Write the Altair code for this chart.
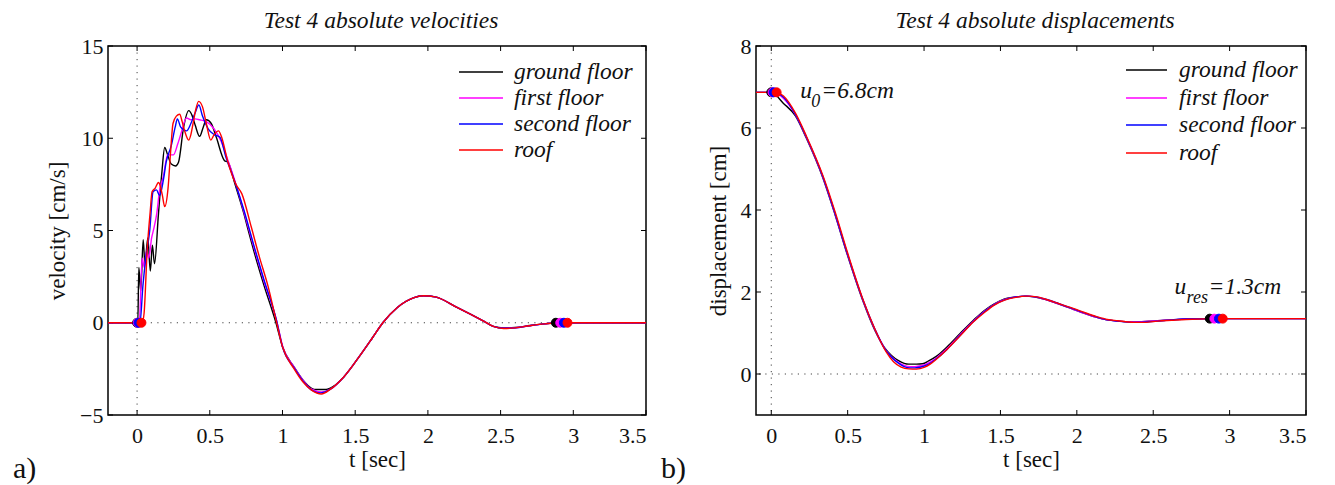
import altair as alt
import pandas as pd

FONT = "Liberation Serif, Times New Roman, Times, serif"
SERIES = ["ground floor", "first floor", "second floor", "roof"]
COLORS = ["#000000", "#ff00ff", "#0000ff", "#ff0000"]

# ---------------- absolute velocities [cm/s] ----------------
vel_t_ground = [-0.2, 0.0, 0.005, 0.012, 0.025, 0.042, 0.054, 0.074, 0.091, 0.105, 0.12, 0.147,
                0.17, 0.19, 0.21, 0.235, 0.265, 0.285, 0.32, 0.355, 0.38, 0.40, 0.43, 0.455,
                0.476, 0.51, 0.545, 0.6, 0.625, 0.674, 0.735, 0.76, 0.81, 0.87, 0.955, 1.0,
                1.08, 1.14, 1.2, 1.23, 1.3, 1.35, 1.42, 1.54, 1.62, 1.69, 1.79, 1.9, 1.97,
                2.05, 2.2, 2.38, 2.45, 2.52, 2.6, 2.7, 2.8, 2.88, 3.5]
vel_ground = [0, 0, 0, 3.0, 1.7, 4.5, 3.2, 4.6, 2.8, 4.2, 3.2, 5.9,
              8.1, 9.5, 9.1, 8.6, 8.5, 8.7, 10.6, 11.5, 11.2, 10.7, 10.1, 10.6,
              11.0, 10.8, 10.05, 8.8, 8.7, 7.5, 5.9, 5.15, 3.7, 2.1, 0.0, -1.3,
              -2.4, -3.1, -3.55, -3.62, -3.62, -3.45, -2.95, -1.7, -0.8, 0.0, 0.83, 1.35, 1.46,
              1.4, 0.83, 0.1, -0.2, -0.28, -0.26, -0.15, -0.06, 0.0, 0.0]

vel_t_first = [-0.2, 0.0, 0.015, 0.035, 0.05, 0.065, 0.08, 0.1, 0.115, 0.135, 0.155, 0.18,
               0.21, 0.25, 0.28, 0.30, 0.34, 0.37, 0.40, 0.43, 0.476, 0.53, 0.58, 0.625,
               0.68, 0.735, 0.81, 0.87, 0.96, 1.0, 1.08, 1.14, 1.2, 1.27, 1.33, 1.42,
               1.54, 1.62, 1.69, 1.79, 1.9, 1.97, 2.05, 2.2, 2.38, 2.45, 2.52, 2.6, 2.7,
               2.8, 2.91, 3.5]
vel_first = [0, 0, 0, 3.5, 3.0, 3.9, 3.5, 4.6, 5.1, 5.9, 7.2, 7.9,
             9.1, 9.1, 9.7, 10.2, 11.1, 11.0, 11.05, 11.0, 10.9, 10.5, 9.8, 8.8,
             7.5, 6.0, 3.9, 2.3, 0.1, -1.25, -2.4, -3.1, -3.6, -3.75, -3.6, -2.95,
             -1.7, -0.8, 0.0, 0.83, 1.35, 1.46, 1.4, 0.83, 0.1, -0.2, -0.29, -0.27, -0.16,
             -0.06, 0.0, 0.0]

vel_t_second = [-0.2, 0.0, 0.02, 0.04, 0.06, 0.087, 0.11, 0.133, 0.155, 0.18, 0.2, 0.235,
                0.262, 0.277, 0.30, 0.34, 0.37, 0.40, 0.425, 0.45, 0.49, 0.53, 0.57, 0.61,
                0.67, 0.735, 0.81, 0.87, 0.96, 1.0, 1.08, 1.14, 1.2, 1.265, 1.33, 1.42,
                1.54, 1.62, 1.69, 1.79, 1.9, 1.97, 2.05, 2.2, 2.38, 2.45, 2.52, 2.6, 2.7,
                2.8, 2.935, 3.5]
vel_second = [0, 0, 0, 2.0, 3.5, 5.0, 7.1, 7.2, 6.9, 7.7, 8.7, 9.6,
              10.6, 11.05, 10.6, 10.4, 10.8, 11.4, 11.8, 11.2, 10.5, 10.2, 10.05, 9.0,
              7.7, 6.1, 4.0, 2.4, 0.1, -1.3, -2.45, -3.15, -3.65, -3.8, -3.6, -2.95,
              -1.7, -0.8, 0.0, 0.83, 1.35, 1.46, 1.4, 0.83, 0.1, -0.2, -0.3, -0.28, -0.16,
              -0.06, 0.0, 0.0]

vel_t_roof = [-0.2, 0.0, 0.035, 0.048, 0.07, 0.09, 0.103, 0.125, 0.147, 0.16, 0.174, 0.19,
              0.213, 0.23, 0.247, 0.27, 0.293, 0.31, 0.327, 0.355, 0.37, 0.385, 0.405, 0.423,
              0.45, 0.476, 0.507, 0.53, 0.56, 0.58, 0.625, 0.68, 0.72, 0.785, 0.84, 0.9,
              0.96, 1.0, 1.08, 1.14, 1.2, 1.267, 1.33, 1.42, 1.54, 1.62, 1.69, 1.79, 1.9,
              1.97, 2.05, 2.2, 2.38, 2.45, 2.52, 2.6, 2.7, 2.8, 2.96, 3.5]
vel_roof = [0, 0, 0, 0.5, 4.0, 6.0, 7.1, 7.3, 7.6, 7.4, 6.9, 6.3,
            7.3, 9.2, 10.8, 11.2, 11.3, 10.9, 10.4, 9.9, 10.2, 10.8, 11.6, 12.0,
            11.7, 10.8, 9.9, 10.2, 10.4, 10.1, 8.7, 7.5, 7.0, 5.2, 3.6, 2.0,
            0.0, -1.3, -2.5, -3.2, -3.65, -3.86, -3.6, -2.95, -1.7, -0.8, 0.0, 0.83, 1.35,
            1.46, 1.4, 0.83, 0.1, -0.2, -0.31, -0.28, -0.16, -0.06, 0.0, 0.0]

vel_start_t = [0.0, 0.004, 0.01, 0.03]
vel_end_t = [2.88, 2.91, 2.935, 2.96]
vel_marker = 0.0

# ---------------- absolute displacements [cm] ----------------
disp_t_ground = [-0.1, 0.0, 0.08, 0.157, 0.23, 0.338, 0.417, 0.497, 0.6, 0.68, 0.74, 0.787,
                 0.83, 0.87, 0.9, 0.95, 0.99, 1.03, 1.08, 1.15, 1.236, 1.32, 1.395, 1.46,
                 1.527, 1.6, 1.66, 1.72, 1.79, 1.88, 1.976, 2.05, 2.13, 2.2, 2.266, 2.37,
                 2.45, 2.53, 2.62, 2.715, 2.87, 3.5]
disp_ground = [6.87, 6.87, 6.6, 6.3, 5.75, 4.78, 3.89, 2.92, 1.78, 1.05, 0.65, 0.45,
               0.33, 0.26, 0.24, 0.24, 0.25, 0.32, 0.43, 0.66, 0.99, 1.3, 1.55, 1.71,
               1.83, 1.88, 1.9, 1.88, 1.82, 1.71, 1.58, 1.48, 1.38, 1.32, 1.29, 1.27,
               1.28, 1.3, 1.32, 1.34, 1.35, 1.35]

disp_t_first = [-0.1, 0.0, 0.008, 0.08, 0.157, 0.23, 0.338, 0.417, 0.497, 0.6, 0.68, 0.74,
                0.787, 0.83, 0.87, 0.91, 0.94, 0.98, 1.03, 1.08, 1.15, 1.236, 1.32, 1.395,
                1.46, 1.527, 1.6, 1.67, 1.73, 1.79, 1.88, 1.976, 2.05, 2.13, 2.2, 2.266,
                2.37, 2.45, 2.53, 2.62, 2.715, 2.90, 3.5]
disp_first = [6.87, 6.87, 6.87, 6.72, 6.33, 5.77, 4.8, 3.91, 2.94, 1.8, 1.07, 0.64,
              0.42, 0.29, 0.21, 0.18, 0.18, 0.2, 0.27, 0.39, 0.62, 0.96, 1.28, 1.53,
              1.7, 1.82, 1.88, 1.9, 1.88, 1.82, 1.71, 1.58, 1.48, 1.38, 1.32, 1.29,
              1.27, 1.28, 1.3, 1.32, 1.34, 1.35, 1.35]

disp_t_second = [-0.1, 0.0, 0.016, 0.08, 0.157, 0.23, 0.338, 0.417, 0.497, 0.6, 0.68, 0.74,
                 0.787, 0.83, 0.87, 0.91, 0.94, 0.98, 1.03, 1.08, 1.15, 1.236, 1.32, 1.395,
                 1.46, 1.527, 1.6, 1.67, 1.73, 1.79, 1.88, 1.976, 2.05, 2.13, 2.2, 2.266,
                 2.37, 2.45, 2.53, 2.62, 2.715, 2.93, 3.5]
disp_second = [6.87, 6.87, 6.87, 6.75, 6.34, 5.78, 4.81, 3.92, 2.95, 1.81, 1.08, 0.63,
               0.41, 0.27, 0.18, 0.15, 0.15, 0.17, 0.24, 0.37, 0.6, 0.94, 1.27, 1.52,
               1.69, 1.81, 1.88, 1.9, 1.88, 1.83, 1.72, 1.59, 1.49, 1.39, 1.32, 1.29,
               1.26, 1.27, 1.29, 1.32, 1.34, 1.35, 1.35]

disp_t_roof = [-0.1, 0.0, 0.035, 0.08, 0.16, 0.23, 0.34, 0.42, 0.5, 0.6, 0.68, 0.75,
               0.8, 0.85, 0.9, 0.95, 1.0, 1.04, 1.08, 1.15, 1.236, 1.32, 1.395, 1.46,
               1.527, 1.6, 1.68, 1.74, 1.79, 1.88, 1.976, 2.05, 2.13, 2.2, 2.266, 2.37,
               2.45, 2.53, 2.62, 2.715, 2.955, 3.5]
disp_roof = [6.87, 6.87, 6.87, 6.78, 6.35, 5.8, 4.82, 3.93, 2.95, 1.82, 1.08, 0.55,
             0.3, 0.17, 0.125, 0.12, 0.16, 0.24, 0.36, 0.6, 0.93, 1.26, 1.5, 1.68,
             1.8, 1.87, 1.9, 1.88, 1.83, 1.72, 1.6, 1.5, 1.4, 1.33, 1.3, 1.26,
             1.26, 1.29, 1.31, 1.33, 1.35, 1.35]

disp_start_t = [0.0, 0.008, 0.016, 0.035]
disp_end_t = [2.87, 2.90, 2.93, 2.955]
disp_start = 6.87
disp_end = 1.35

TICKS_T = [0, 0.5, 1, 1.5, 2, 2.5, 3, 3.5]


def panel(curves, start_t, start_val, end_t, end_val, xdom, ydom, yticks, W, H,
          title, ytitle, tag, legend, notes):
    xenc = alt.X("t:Q", scale=alt.Scale(domain=xdom, nice=False, zero=False),
                 axis=alt.Axis(values=TICKS_T, format="~g", title="t [sec]"))
    yenc = alt.Y("y:Q", scale=alt.Scale(domain=ydom, nice=False, zero=False),
                 axis=alt.Axis(values=yticks, format="~g", title=ytitle))

    layers = []
    # dotted zero references
    layers.append(alt.Chart(pd.DataFrame({"t": [0.0]})).mark_rule(
        color="#444", strokeDash=[1.2, 5.3], strokeWidth=1).encode(x=xenc))
    layers.append(alt.Chart(pd.DataFrame({"y": [0.0]})).mark_rule(
        color="#444", strokeDash=[1.2, 5.3], strokeWidth=1).encode(y=yenc))

    # inward box ticks on all four sides
    tdf = pd.DataFrame({"t": TICKS_T})
    ydf = pd.DataFrame({"y": yticks})
    tick = dict(color="#000", strokeWidth=1)
    layers.append(alt.Chart(tdf).mark_rule(**tick).encode(x=xenc, y=alt.value(0), y2=alt.value(5)))
    layers.append(alt.Chart(tdf).mark_rule(**tick).encode(x=xenc, y=alt.value(H - 5), y2=alt.value(H)))
    layers.append(alt.Chart(ydf).mark_rule(**tick).encode(y=yenc, x=alt.value(0), x2=alt.value(5)))
    layers.append(alt.Chart(ydf).mark_rule(**tick).encode(y=yenc, x=alt.value(W - 5), x2=alt.value(W)))

    # one line per storey, drawn bottom to roof
    for (ts, vs), color in zip(curves, COLORS):
        df = pd.DataFrame({"t": ts, "y": vs})
        layers.append(alt.Chart(df).mark_line(color=color, strokeWidth=1.4, clip=True,
                                              interpolate="monotone").encode(x=xenc, y=yenc))
    # start / end markers
    for i, color in enumerate(COLORS):
        mdf = pd.DataFrame({"t": [start_t[i], end_t[i]], "y": [start_val, end_val]})
        layers.append(alt.Chart(mdf).mark_circle(color=color, size=80, opacity=1,
                                                 stroke=color, strokeWidth=1).encode(x=xenc, y=yenc))

    # legend drawn inside the axes
    lx0, lx1, tx, rows = legend
    for name, color, ry in zip(SERIES, COLORS, rows):
        layers.append(alt.Chart(pd.DataFrame({"k": [name]})).mark_rule(
            color=color, strokeWidth=1.4).encode(
            x=alt.value(lx0), x2=alt.value(lx1), y=alt.value(ry)))
        layers.append(alt.Chart(pd.DataFrame({"k": [name]})).mark_text(
            font=FONT, fontSize=23.5, fontStyle="italic", align="left", baseline="middle",
            color="#111").encode(x=alt.value(tx), y=alt.value(ry), text="k:N"))

    # annotations (main letter, subscript, remainder)
    for (nt, ny, main, sub, rest, sdx, rdx) in notes:
        ndf = pd.DataFrame({"t": [nt], "y": [ny], "a": [main], "b": [sub], "c": [rest]})
        layers.append(alt.Chart(ndf).mark_text(font=FONT, fontSize=23.5, fontStyle="italic",
                                               align="left", baseline="alphabetic", color="#111")
                      .encode(x=xenc, y=yenc, text="a:N"))
        layers.append(alt.Chart(ndf).mark_text(font=FONT, fontSize=18, fontStyle="italic",
                                               align="left", baseline="alphabetic", color="#111",
                                               dx=sdx, dy=9)
                      .encode(x=xenc, y=yenc, text="b:N"))
        layers.append(alt.Chart(ndf).mark_text(font=FONT, fontSize=23.5, fontStyle="italic",
                                               align="left", baseline="alphabetic", color="#111",
                                               dx=rdx)
                      .encode(x=xenc, y=yenc, text="c:N"))

    # panel title and panel tag
    layers.append(alt.Chart(pd.DataFrame({"k": [title]})).mark_text(
        font=FONT, fontSize=23.5, fontStyle="italic", align="center", baseline="alphabetic",
        color="#111").encode(x=alt.value(W / 2 + 4), y=alt.value(-18), text="k:N"))
    layers.append(alt.Chart(pd.DataFrame({"k": [tag]})).mark_text(
        font=FONT, fontSize=30, align="left", baseline="alphabetic",
        color="#111").encode(x=alt.value(-95), y=alt.value(H + 63), text="k:N"))

    return alt.layer(*layers).properties(width=W, height=H)


H = 369
left = panel(
    [(vel_t_ground, vel_ground), (vel_t_first, vel_first),
     (vel_t_second, vel_second), (vel_t_roof, vel_roof)],
    vel_start_t, vel_marker, vel_end_t, vel_marker,
    [-0.2, 3.5], [-5, 15], [-5, 0, 5, 10, 15], 538, H,
    "Test 4 absolute velocities", "velocity [cm/s]", "a)",
    (351, 395, 406, [26, 52, 78, 104]),
    [],
)
right = panel(
    [(disp_t_ground, disp_ground), (disp_t_first, disp_first),
     (disp_t_second, disp_second), (disp_t_roof, disp_roof)],
    disp_start_t, disp_start, disp_end_t, disp_end,
    [-0.1, 3.5], [-1, 8], [0, 2, 4, 6, 8], 550, H,
    "Test 4 absolute displacements", "displacement [cm]", "b)",
    (370, 411, 423, [24, 52, 79, 107]),
    [(0.19, 6.73, "u", "0", "=6.8cm", 11, 21),
     (2.64, 1.95, "u", "res", "=1.3cm", 12, 34)],
)

chart = alt.hconcat(left, right, spacing=110, bounds="flush").properties(
    padding={"left": 12, "top": 8, "right": 5, "bottom": 0}
).configure_view(
    stroke="#000", strokeWidth=1.5
).configure_axis(
    labelFont=FONT, labelFontSize=22, labelColor="#111",
    titleFont=FONT, titleFontSize=23, titleFontWeight="normal", titleColor="#111",
    domain=False, ticks=False, grid=False, labelPadding=5, titlePadding=10,
).configure_axisX(
    labelPadding=10, titlePadding=2,
)

chart.save("out.html", embed_options={"renderer": "svg", "actions": False})
